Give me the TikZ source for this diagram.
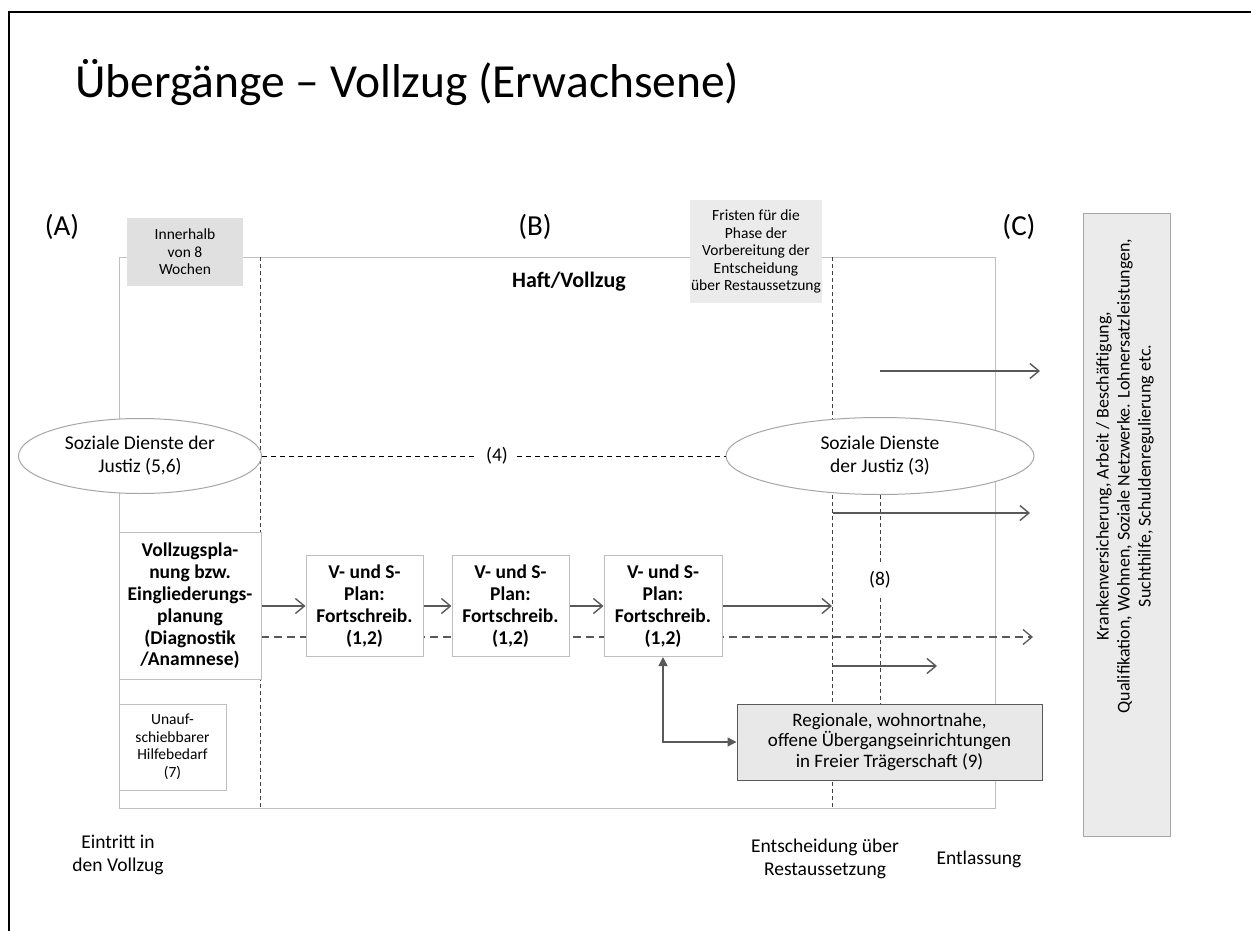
\documentclass[tikz,border=0pt]{standalone}
\usepackage{fontspec}
\setmainfont{Carlito}
\usetikzlibrary{arrows.meta,shapes.geometric}
\pgfdeclarelayer{background}
\pgfsetlayers{background,main}
\definecolor{framegray}{HTML}{BFBFBF}
\definecolor{linedark}{HTML}{404040}
\definecolor{arrgray}{HTML}{595959}
\definecolor{boxfillA}{HTML}{E0E0E0}
\definecolor{boxfillB}{HTML}{EBEBEB}
\definecolor{boxfillC}{HTML}{E8E8E8}
\definecolor{ellgray}{HTML}{A6A6A6}
\newcommand\szSmall{\fontsize{15.5}{17.5}\selectfont}
\newcommand\szMed{\fontsize{19.5}{23}\selectfont}
\newcommand\szReg{\fontsize{19}{20.5}\selectfont}
\newcommand\szBold{\fontsize{19.5}{21.8}\selectfont\bfseries}
\newcommand\szRot{\fontsize{18}{21}\selectfont}
\tikzset{
  frameline/.style={draw=framegray, line width=1pt},
  vdash/.style={draw=linedark, line width=1pt, dash pattern=on 4pt off 3pt},
  hdash/.style={draw=black, line width=1pt, dash pattern=on 5pt off 4pt},
  longdash/.style={draw=arrgray, line width=1.3pt, dash pattern=on 8pt off 5pt, -{Straight Barb[length=9pt,width=15pt]}},
  arr/.style={draw=arrgray, line width=1.4pt, -{Straight Barb[length=9pt,width=15pt]}},
  arrfill/.style={draw=arrgray, line width=1.4pt, {Triangle[length=9pt,width=9pt]}-{Triangle[length=9pt,width=9pt]}},
  greybox/.style={fill=#1, draw=none, align=center, inner sep=0pt, font=\szSmall},
  whitebox/.style={draw=framegray, fill=white, line width=1pt, align=center, inner sep=0pt},
  ell/.style={ellipse, draw=ellgray, fill=white, line width=1pt, align=center, inner sep=0pt, font=\szMed},
  lab/.style={inner sep=0pt, align=center, font=\szMed},
  biglab/.style={inner sep=0pt, font=\fontsize{29}{32}\selectfont},
}
\begin{document}
\begin{tikzpicture}[x=1pt,y=-1pt]
\useasboundingbox (0,0) rectangle (1251,931);
% outer frame
\coordinate (fbl) at (9,931);
\coordinate (ftl) at (9,12);
\coordinate (ftr) at (1251,12);
\draw[black, line width=2pt] (fbl) -- (ftl) -- (ftr);

% title
\node[anchor=base west, inner sep=0pt, font=\fontsize{47.5}{52}\selectfont] (title) at (75,98) {Übergänge – Vollzug (Erwachsene)};

% section labels
\node[biglab] (labA) at (62,227) {(A)};
\node[biglab] (labB) at (535,227) {(B)};
\node[biglab] (labC) at (1019,227) {(C)};

% main frame
\begin{pgfonlayer}{background}
\draw[frameline] (119,257) rectangle (995,808);
\coordinate (v1t) at (260,257);
\coordinate (v1b) at (260,808);
\coordinate (v2t) at (832,257);
\coordinate (v2b) at (832,808);
\draw[vdash] (v1t) -- (v1b);
\draw[vdash] (v2t) -- (v2b);
\coordinate (d0) at (261,637);
\coordinate (d1) at (1033,637);
\draw[longdash] (d0) -- (d1);
\end{pgfonlayer}

\node[greybox=boxfillA, minimum width=116pt, minimum height=68pt] (inner) at (185,252) {Innerhalb\\von 8\\Wochen};
\node[greybox=boxfillB, minimum width=132pt, minimum height=103pt] (fristen) at (756,251.5) {Fristen für die\\Phase der\\Vorbereitung der\\Entscheidung\\über Restaussetzung};

\node[inner sep=0pt, font=\fontsize{22}{24}\selectfont\bfseries] (haft) at (569,282) {Haft/Vollzug};

% ellipses
\node[ell, minimum width=243pt, minimum height=75pt] (ell1) at (140,456) {Soziale Dienste der\\Justiz (5,6)};
\node[ell, minimum width=308pt, minimum height=77pt] (ell2) at (880,456) {Soziale Dienste\\der Justiz (3)};
\node[lab] (lab4) at (497,456) {(4)};
\draw[hdash] (ell1.east) -- ([xshift=-9pt]lab4.west);
\draw[hdash] ([xshift=9pt]lab4.east) -- (ell2.west);

% boxes
\node[whitebox, minimum width=142pt, minimum height=147pt, font=\szBold] (vp) at (190,606) {Vollzugspla-\\nung bzw.\\Eingliederungs-\\planung\\(Diagnostik\\/Anamnese)};
\node[whitebox, minimum width=107pt, minimum height=86pt, font=\szSmall] (unauf) at (172.5,747) {Unauf-\\schiebbarer\\Hilfebedarf\\(7)};
\node[whitebox, minimum width=117pt, minimum height=101pt, font=\szBold] (b1) at (364.5,606) {V- und S-\\Plan:\\Fortschreib.\\(1,2)};
\node[whitebox, minimum width=117pt, minimum height=101pt, font=\szBold] (b2) at (510.5,606) {V- und S-\\Plan:\\Fortschreib.\\(1,2)};
\node[whitebox, minimum width=118pt, minimum height=101pt, font=\szBold] (b3) at (663,606) {V- und S-\\Plan:\\Fortschreib.\\(1,2)};

\node[draw=arrgray, fill=boxfillC, line width=1pt, align=center, inner sep=0pt, font=\szReg, minimum width=305pt, minimum height=76pt] (reg) at (889.5,742) {Regionale, wohnortnahe,\\offene Übergangseinrichtungen\\in Freier Trägerschaft (9)};

\node[draw=ellgray, fill=boxfillB, line width=1pt, inner sep=0pt, minimum width=87pt, minimum height=623pt] (right) at (1126.5,524.5) {};
\node[align=center, inner sep=0pt, font=\szRot, rotate=90] (righttext) at (1125,476) {Krankenversicherung, Arbeit / Beschäftigung,\\Qualifikation, Wohnen, Soziale Netzwerke. Lohnersatzleistungen,\\Suchthilfe, Schuldenregulierung etc.};

% (8)
\node[lab] (lab8) at (880,580) {(8)};
\draw[vdash] (ell2.south) -- ([yshift=9pt]lab8.north);
\draw[vdash] ([yshift=-9pt]lab8.south) -- (reg.north -| lab8);

% arrows
\coordinate (e1) at (832,606);
\draw[arr] (vp) -- (b1);
\draw[arr] (b1) -- (b2);
\draw[arr] (b2) -- (b3);
\draw[arr] (b3) -- (e1);
\coordinate (a0s) at (880,371);
\coordinate (a0e) at (1040,371);
\draw[arr] (a0s) -- (a0e);
\coordinate (a1s) at (833,513);
\coordinate (a1e) at (1030,513);
\draw[arr] (a1s) -- (a1e);
\coordinate (a2s) at (833,666);
\coordinate (a2e) at (937,666);
\draw[arr] (a2s) -- (a2e);
\draw[arrfill] (b3.south) |- (reg.west);

% bottom labels
\node[lab] (eintritt) at (118,855) {Eintritt in\\den Vollzug};
\node[lab] (entsch) at (825,859) {Entscheidung über\\Restaussetzung};
\node[lab] (entl) at (979,859) {Entlassung};
\end{tikzpicture}
\end{document}
